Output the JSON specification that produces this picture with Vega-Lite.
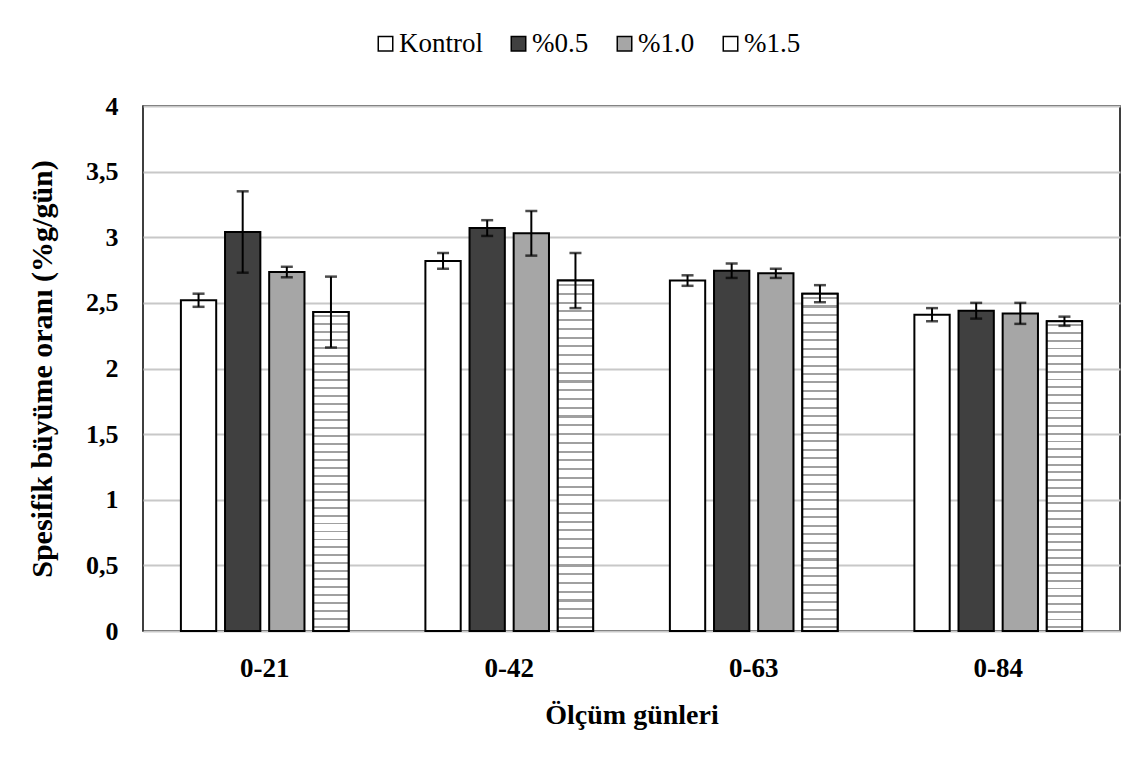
{
  "$schema": "https://vega.github.io/schema/vega-lite/v6.json",
  "width": 977,
  "height": 525,
  "autosize": {"type": "none"},
  "padding": {"left": 143, "top": 106, "right": 27, "bottom": 138},
  "background": "white",
  "config": {
    "font": "Liberation Serif",
    "view": {"stroke": "black", "strokeWidth": 1.5},
    "legend": {"labelFont": "Liberation Serif", "labelFontSize": 27, "labelColor": "black"},
    "axis": {"labelFont": "Liberation Serif", "titleFont": "Liberation Serif", "labelFontWeight": "bold", "titleFontWeight": "bold", "labelColor": "black", "titleColor": "black"}
  },
  "data": {
    "values": [
      {"period": "0-21", "group": "Kontrol", "value": 2.52, "lo": 2.47, "hi": 2.57},
      {"period": "0-21", "group": "%0.5", "value": 3.04, "lo": 2.73, "hi": 3.35},
      {"period": "0-21", "group": "%1.0", "value": 2.735, "lo": 2.695, "hi": 2.775},
      {"period": "0-21", "group": "%1.5", "value": 2.43, "lo": 2.16, "hi": 2.70},
      {"period": "0-42", "group": "Kontrol", "value": 2.82, "lo": 2.76, "hi": 2.88},
      {"period": "0-42", "group": "%0.5", "value": 3.07, "lo": 3.01, "hi": 3.13},
      {"period": "0-42", "group": "%1.0", "value": 3.03, "lo": 2.86, "hi": 3.20},
      {"period": "0-42", "group": "%1.5", "value": 2.67, "lo": 2.46, "hi": 2.88},
      {"period": "0-63", "group": "Kontrol", "value": 2.67, "lo": 2.63, "hi": 2.71},
      {"period": "0-63", "group": "%0.5", "value": 2.745, "lo": 2.69, "hi": 2.80},
      {"period": "0-63", "group": "%1.0", "value": 2.725, "lo": 2.69, "hi": 2.76},
      {"period": "0-63", "group": "%1.5", "value": 2.57, "lo": 2.505, "hi": 2.635},
      {"period": "0-84", "group": "Kontrol", "value": 2.41, "lo": 2.36, "hi": 2.46},
      {"period": "0-84", "group": "%0.5", "value": 2.44, "lo": 2.38, "hi": 2.50},
      {"period": "0-84", "group": "%1.0", "value": 2.42, "lo": 2.34, "hi": 2.50},
      {"period": "0-84", "group": "%1.5", "value": 2.36, "lo": 2.325, "hi": 2.395}
    ]
  },
  "encoding": {
    "x": {"field": "period", "type": "nominal", "scale": {"paddingInner": 0.314, "paddingOuter": 0.155},
      "axis": {"title": "Ölçüm günleri", "labelAngle": 0, "ticks": false, "domain": false, "labelFontSize": 27, "titleFontSize": 28, "labelPadding": 24, "titlePadding": 20}},
    "xOffset": {"field": "group", "type": "nominal", "scale": {"domain": ["Kontrol", "%0.5", "%1.0", "%1.5"], "paddingInner": 0.2, "paddingOuter": 0}}
  },
  "layer": [
    {
      "mark": {"type": "bar", "stroke": "black", "strokeWidth": 2},
      "encoding": {
        "y": {"field": "value", "type": "quantitative", "scale": {"domain": [0, 4]},
          "axis": {"title": "Spesifik büyüme oranı (%g/gün)", "values": [0, 0.5, 1, 1.5, 2, 2.5, 3, 3.5, 4], "labelExpr": "replace(format(datum.value, '~g'), '.', ',')", "ticks": false, "domain": false, "labelFontSize": 26, "titleFontSize": 30, "labelPadding": 25, "titlePadding": 28, "grid": true, "gridColor": "#c8c8c8", "gridWidth": 2}},
        "fill": {"field": "group", "type": "nominal",
          "scale": {"domain": ["Kontrol", "%0.5", "%1.0", "%1.5"], "range": ["#ffffff", "#404040", "#a6a6a6", "#ffffff"]},
          "legend": {"title": null, "orient": "none", "direction": "horizontal", "legendX": 229, "legendY": -76, "symbolType": "square", "symbolSize": 210, "symbolStrokeColor": "black", "symbolStrokeWidth": 1.5, "labelFont": "Liberation Serif", "labelFontSize": 27, "labelColor": "black", "columnPadding": 22, "labelOffset": 0}}
      }
    },
    {
      "transform": [{"filter": "datum.group === '%1.5'"}],
      "mark": {"type": "bar", "stroke": "black", "strokeWidth": 2,
        "fill": {"gradient": "linear", "x1": 0, "y1": 0, "x2": 0, "y2": 1, "stops": [
          {"offset": 0, "color": "#ffffff"},
          {"offset": 0.010, "color": "#ffffff"}, {"offset": 0.010, "color": "#a0a0a0"}, {"offset": 0.016, "color": "#a0a0a0"}, {"offset": 0.016, "color": "#ffffff"},
          {"offset": 0.035, "color": "#ffffff"}, {"offset": 0.035, "color": "#a0a0a0"}, {"offset": 0.041, "color": "#a0a0a0"}, {"offset": 0.041, "color": "#ffffff"},
          {"offset": 0.060, "color": "#ffffff"}, {"offset": 0.060, "color": "#a0a0a0"}, {"offset": 0.066, "color": "#a0a0a0"}, {"offset": 0.066, "color": "#ffffff"},
          {"offset": 0.085, "color": "#ffffff"}, {"offset": 0.085, "color": "#a0a0a0"}, {"offset": 0.091, "color": "#a0a0a0"}, {"offset": 0.091, "color": "#ffffff"},
          {"offset": 0.110, "color": "#ffffff"}, {"offset": 0.110, "color": "#a0a0a0"}, {"offset": 0.116, "color": "#a0a0a0"}, {"offset": 0.116, "color": "#ffffff"},
          {"offset": 0.135, "color": "#ffffff"}, {"offset": 0.135, "color": "#a0a0a0"}, {"offset": 0.141, "color": "#a0a0a0"}, {"offset": 0.141, "color": "#ffffff"},
          {"offset": 0.160, "color": "#ffffff"}, {"offset": 0.160, "color": "#a0a0a0"}, {"offset": 0.166, "color": "#a0a0a0"}, {"offset": 0.166, "color": "#ffffff"},
          {"offset": 0.185, "color": "#ffffff"}, {"offset": 0.185, "color": "#a0a0a0"}, {"offset": 0.191, "color": "#a0a0a0"}, {"offset": 0.191, "color": "#ffffff"},
          {"offset": 0.210, "color": "#ffffff"}, {"offset": 0.210, "color": "#a0a0a0"}, {"offset": 0.216, "color": "#a0a0a0"}, {"offset": 0.216, "color": "#ffffff"},
          {"offset": 0.235, "color": "#ffffff"}, {"offset": 0.235, "color": "#a0a0a0"}, {"offset": 0.241, "color": "#a0a0a0"}, {"offset": 0.241, "color": "#ffffff"},
          {"offset": 0.260, "color": "#ffffff"}, {"offset": 0.260, "color": "#a0a0a0"}, {"offset": 0.266, "color": "#a0a0a0"}, {"offset": 0.266, "color": "#ffffff"},
          {"offset": 0.285, "color": "#ffffff"}, {"offset": 0.285, "color": "#a0a0a0"}, {"offset": 0.291, "color": "#a0a0a0"}, {"offset": 0.291, "color": "#ffffff"},
          {"offset": 0.310, "color": "#ffffff"}, {"offset": 0.310, "color": "#a0a0a0"}, {"offset": 0.316, "color": "#a0a0a0"}, {"offset": 0.316, "color": "#ffffff"},
          {"offset": 0.335, "color": "#ffffff"}, {"offset": 0.335, "color": "#a0a0a0"}, {"offset": 0.341, "color": "#a0a0a0"}, {"offset": 0.341, "color": "#ffffff"},
          {"offset": 0.360, "color": "#ffffff"}, {"offset": 0.360, "color": "#a0a0a0"}, {"offset": 0.366, "color": "#a0a0a0"}, {"offset": 0.366, "color": "#ffffff"},
          {"offset": 0.385, "color": "#ffffff"}, {"offset": 0.385, "color": "#a0a0a0"}, {"offset": 0.391, "color": "#a0a0a0"}, {"offset": 0.391, "color": "#ffffff"},
          {"offset": 0.410, "color": "#ffffff"}, {"offset": 0.410, "color": "#a0a0a0"}, {"offset": 0.416, "color": "#a0a0a0"}, {"offset": 0.416, "color": "#ffffff"},
          {"offset": 0.435, "color": "#ffffff"}, {"offset": 0.435, "color": "#a0a0a0"}, {"offset": 0.441, "color": "#a0a0a0"}, {"offset": 0.441, "color": "#ffffff"},
          {"offset": 0.460, "color": "#ffffff"}, {"offset": 0.460, "color": "#a0a0a0"}, {"offset": 0.466, "color": "#a0a0a0"}, {"offset": 0.466, "color": "#ffffff"},
          {"offset": 0.485, "color": "#ffffff"}, {"offset": 0.485, "color": "#a0a0a0"}, {"offset": 0.491, "color": "#a0a0a0"}, {"offset": 0.491, "color": "#ffffff"},
          {"offset": 0.510, "color": "#ffffff"}, {"offset": 0.510, "color": "#a0a0a0"}, {"offset": 0.516, "color": "#a0a0a0"}, {"offset": 0.516, "color": "#ffffff"},
          {"offset": 0.535, "color": "#ffffff"}, {"offset": 0.535, "color": "#a0a0a0"}, {"offset": 0.541, "color": "#a0a0a0"}, {"offset": 0.541, "color": "#ffffff"},
          {"offset": 0.560, "color": "#ffffff"}, {"offset": 0.560, "color": "#a0a0a0"}, {"offset": 0.566, "color": "#a0a0a0"}, {"offset": 0.566, "color": "#ffffff"},
          {"offset": 0.585, "color": "#ffffff"}, {"offset": 0.585, "color": "#a0a0a0"}, {"offset": 0.591, "color": "#a0a0a0"}, {"offset": 0.591, "color": "#ffffff"},
          {"offset": 0.610, "color": "#ffffff"}, {"offset": 0.610, "color": "#a0a0a0"}, {"offset": 0.616, "color": "#a0a0a0"}, {"offset": 0.616, "color": "#ffffff"},
          {"offset": 0.635, "color": "#ffffff"}, {"offset": 0.635, "color": "#a0a0a0"}, {"offset": 0.641, "color": "#a0a0a0"}, {"offset": 0.641, "color": "#ffffff"},
          {"offset": 0.660, "color": "#ffffff"}, {"offset": 0.660, "color": "#a0a0a0"}, {"offset": 0.666, "color": "#a0a0a0"}, {"offset": 0.666, "color": "#ffffff"},
          {"offset": 0.685, "color": "#ffffff"}, {"offset": 0.685, "color": "#a0a0a0"}, {"offset": 0.691, "color": "#a0a0a0"}, {"offset": 0.691, "color": "#ffffff"},
          {"offset": 0.710, "color": "#ffffff"}, {"offset": 0.710, "color": "#a0a0a0"}, {"offset": 0.716, "color": "#a0a0a0"}, {"offset": 0.716, "color": "#ffffff"},
          {"offset": 0.735, "color": "#ffffff"}, {"offset": 0.735, "color": "#a0a0a0"}, {"offset": 0.741, "color": "#a0a0a0"}, {"offset": 0.741, "color": "#ffffff"},
          {"offset": 0.760, "color": "#ffffff"}, {"offset": 0.760, "color": "#a0a0a0"}, {"offset": 0.766, "color": "#a0a0a0"}, {"offset": 0.766, "color": "#ffffff"},
          {"offset": 0.785, "color": "#ffffff"}, {"offset": 0.785, "color": "#a0a0a0"}, {"offset": 0.791, "color": "#a0a0a0"}, {"offset": 0.791, "color": "#ffffff"},
          {"offset": 0.810, "color": "#ffffff"}, {"offset": 0.810, "color": "#a0a0a0"}, {"offset": 0.816, "color": "#a0a0a0"}, {"offset": 0.816, "color": "#ffffff"},
          {"offset": 0.835, "color": "#ffffff"}, {"offset": 0.835, "color": "#a0a0a0"}, {"offset": 0.841, "color": "#a0a0a0"}, {"offset": 0.841, "color": "#ffffff"},
          {"offset": 0.860, "color": "#ffffff"}, {"offset": 0.860, "color": "#a0a0a0"}, {"offset": 0.866, "color": "#a0a0a0"}, {"offset": 0.866, "color": "#ffffff"},
          {"offset": 0.885, "color": "#ffffff"}, {"offset": 0.885, "color": "#a0a0a0"}, {"offset": 0.891, "color": "#a0a0a0"}, {"offset": 0.891, "color": "#ffffff"},
          {"offset": 0.910, "color": "#ffffff"}, {"offset": 0.910, "color": "#a0a0a0"}, {"offset": 0.916, "color": "#a0a0a0"}, {"offset": 0.916, "color": "#ffffff"},
          {"offset": 0.935, "color": "#ffffff"}, {"offset": 0.935, "color": "#a0a0a0"}, {"offset": 0.941, "color": "#a0a0a0"}, {"offset": 0.941, "color": "#ffffff"},
          {"offset": 0.960, "color": "#ffffff"}, {"offset": 0.960, "color": "#a0a0a0"}, {"offset": 0.966, "color": "#a0a0a0"}, {"offset": 0.966, "color": "#ffffff"},
          {"offset": 0.985, "color": "#ffffff"}, {"offset": 0.985, "color": "#a0a0a0"}, {"offset": 0.991, "color": "#a0a0a0"}, {"offset": 0.991, "color": "#ffffff"},
          {"offset": 1, "color": "#ffffff"}
        ]}},
      "encoding": {
        "y": {"field": "value", "type": "quantitative"}
      }
    },
    {
      "mark": {"type": "rule", "color": "black", "strokeWidth": 2},
      "encoding": {
        "y": {"field": "lo", "type": "quantitative"},
        "y2": {"field": "hi"}
      }
    },
    {
      "mark": {"type": "tick", "color": "black", "thickness": 2.5, "size": 12},
      "encoding": {"y": {"field": "lo", "type": "quantitative"}}
    },
    {
      "mark": {"type": "tick", "color": "black", "thickness": 2.5, "size": 12},
      "encoding": {"y": {"field": "hi", "type": "quantitative"}}
    }
  ]
}
